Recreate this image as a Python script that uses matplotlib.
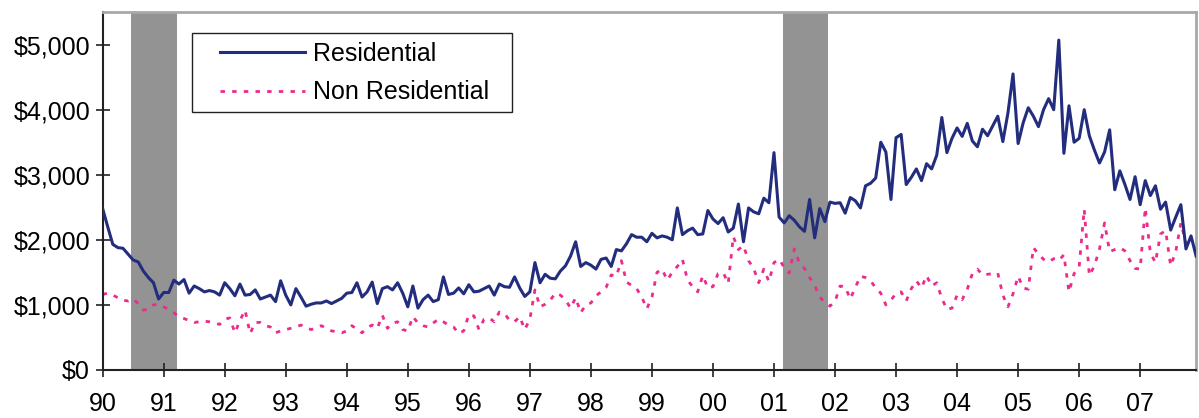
import matplotlib
matplotlib.use("Agg")
import matplotlib.pyplot as plt
import matplotlib.ticker as mticker
from matplotlib.patches import Rectangle
import numpy as np

plt.rcParams.update({
    "font.family": ["Liberation Sans", "DejaVu Sans"],
    "font.size": 18,
})

# Monthly values, Jan 1990 - Dec 2007 ($)
residential = [
    2480, 2200, 1930, 1880, 1870, 1780, 1690, 1660, 1520, 1420, 1340, 1090,  # 1990
    1190, 1190, 1380, 1320, 1390, 1180, 1290, 1250, 1200, 1220, 1200, 1150,  # 1991
    1340, 1250, 1140, 1320, 1150, 1160, 1230, 1090, 1120, 1150, 1050, 1370,  # 1992
    1150, 1000, 1250, 1120, 980, 1010, 1030, 1030, 1060, 1020, 1060, 1100,   # 1993
    1180, 1190, 1340, 1120, 1200, 1350, 1020, 1250, 1280, 1230, 1340, 1180,  # 1994
    970, 1290, 950, 1080, 1150, 1050, 1080, 1430, 1160, 1180, 1260, 1170,    # 1995
    1310, 1200, 1210, 1250, 1290, 1150, 1320, 1280, 1270, 1430, 1260, 1130,  # 1996
    1200, 1650, 1340, 1470, 1410, 1400, 1520, 1600, 1750, 1970, 1590, 1650,  # 1997
    1610, 1550, 1700, 1720, 1590, 1850, 1830, 1940, 2080, 2040, 2040, 1970,  # 1998
    2100, 2030, 2060, 2040, 2000, 2490, 2080, 2140, 2180, 2080, 2090, 2450,  # 1999
    2320, 2250, 2340, 2120, 2180, 2550, 1970, 2490, 2430, 2400, 2640, 2570,  # 2000
    3340, 2350, 2260, 2370, 2300, 2200, 2130, 2620, 2030, 2480, 2280, 2580,  # 2001
    2560, 2570, 2410, 2650, 2600, 2490, 2830, 2870, 2950, 3500, 3350, 2620,  # 2002
    3570, 3620, 2850, 2960, 3090, 2910, 3170, 3090, 3300, 3880, 3340, 3560,  # 2003
    3720, 3590, 3790, 3520, 3430, 3700, 3600, 3750, 3900, 3510, 3950, 4550,  # 2004
    3480, 3800, 4030, 3900, 3740, 4000, 4170, 4000, 5070, 3330, 4060, 3500,  # 2005
    3560, 4000, 3600, 3380, 3180, 3350, 3690, 2770, 3060, 2850, 2620, 2970,  # 2006
    2540, 2910, 2680, 2830, 2470, 2580, 2150, 2350, 2540, 1860, 2060, 1750,  # 2007
]

non_residential = [
    1160, 1180, 1150, 1110, 1070, 1060, 1090, 1020, 920, 930, 1000, 1010,   # 1990
    970, 930, 880, 820, 790, 760, 730, 740, 750, 740, 720, 700,             # 1991
    780, 800, 570, 760, 920, 560, 730, 730, 680, 660, 570, 600,             # 1992
    620, 640, 660, 690, 650, 620, 650, 680, 640, 600, 590, 570,             # 1993
    600, 680, 630, 570, 650, 690, 640, 840, 640, 720, 740, 620,             # 1994
    600, 820, 720, 680, 660, 720, 780, 740, 690, 660, 560, 600,             # 1995
    850, 830, 620, 780, 800, 740, 890, 870, 760, 740, 820, 620,             # 1996
    780, 1230, 970, 1010, 1070, 1180, 1150, 1080, 950, 1110, 880, 1000,     # 1997
    1030, 1140, 1200, 1270, 1460, 1440, 1680, 1350, 1300, 1250, 1120, 940,  # 1998
    1120, 1500, 1550, 1380, 1500, 1590, 1700, 1380, 1280, 1200, 1450, 1260, # 1999
    1280, 1480, 1500, 1330, 2050, 1850, 1910, 1680, 1560, 1340, 1550, 1360, # 2000
    1650, 1700, 1580, 1490, 1860, 1640, 1560, 1420, 1300, 1120, 1040, 980,  # 2001
    1050, 1290, 1280, 1090, 1270, 1440, 1420, 1370, 1260, 1180, 1000, 1070, # 2002
    1180, 1200, 1060, 1250, 1370, 1260, 1450, 1290, 1340, 1100, 930, 950,   # 2003
    1150, 1080, 1240, 1480, 1550, 1460, 1470, 1480, 1490, 1150, 970, 1170,  # 2004
    1440, 1260, 1240, 1880, 1780, 1700, 1660, 1710, 1680, 1770, 1200, 1480, # 2005
    1580, 2470, 1450, 1600, 1860, 2260, 1820, 1850, 1880, 1830, 1680, 1560, # 2006
    1550, 2490, 1800, 1650, 2090, 2140, 1600, 1820, 2260, 1950, 1880, 1880, # 2007
]

# Recession periods (fractional years)
recessions = [(1990.47, 1991.22), (2001.14, 2001.88)]

years = list(range(1990, 2008))
year_labels = [f"{y % 100:02d}" for y in years]

t = 1990 + np.arange(len(residential)) / 12.0

fig = plt.figure(figsize=(11.99, 4.18), dpi=100)
ax = fig.add_axes([0.0856, 0.115, 0.912, 0.856])

for start, end in recessions:
    ax.axvspan(start, end, color="#939393", lw=0, zorder=1)

ax.plot(t, residential, color="#232d7d", lw=2.2, solid_joinstyle="round",
        label="Residential", zorder=3)
ax.plot(t, non_residential, color="#ec2b8c", lw=2.0, ls=(0, (1.6, 2.6)),
        label="Non Residential", zorder=2)

ax.set_xlim(t[0], t[-1])
ax.set_ylim(0, 5500)
ax.set_xticks(years)
ax.set_xticklabels(year_labels)
ax.set_yticks(range(0, 6000, 1000))
ax.yaxis.set_major_formatter(mticker.StrMethodFormatter("${x:,.0f}"))
ax.tick_params(axis="both", direction="inout", length=10, width=1.2,
               color="#222222", labelsize=18)
ax.tick_params(axis="x", pad=11)
ax.tick_params(axis="y", pad=4)

for side in ("left", "bottom"):
    ax.spines[side].set_color("#222222")
    ax.spines[side].set_linewidth(1.5)
for side in ("top", "right"):
    ax.spines[side].set_color("#a8a8a8")
    ax.spines[side].set_linewidth(2)

# legend box drawn separately so the inner padding can be wider than tall
ax.add_patch(Rectangle((0.1601, 0.7321), 0.2669, 0.189,
                       transform=fig.transFigure, facecolor="white",
                       edgecolor="#222222", lw=1.0, zorder=5))
leg = ax.legend(loc="upper left", bbox_to_anchor=(0.1835, 0.900),
                bbox_transform=fig.transFigure, fontsize=18, frameon=False,
                handlelength=3.4, handletextpad=0.3, borderpad=0,
                labelspacing=0.58, borderaxespad=0)
leg.set_zorder(6)

fig.savefig("out.png", dpi=100)
